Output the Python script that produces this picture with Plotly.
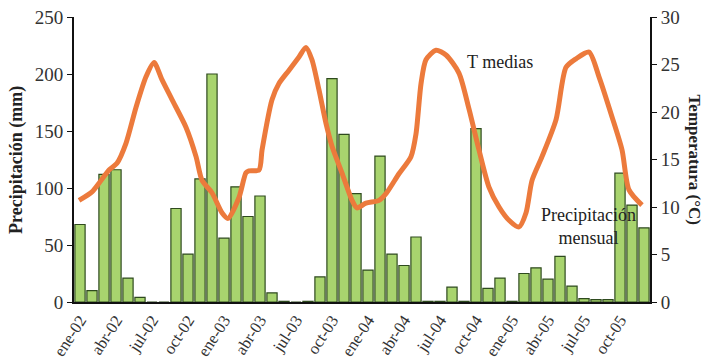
import plotly.graph_objects as go

# Monthly precipitation (mm), January 2002 - December 2005
months = [f"{m}-{y}" for y in ("02", "03", "04", "05")
          for m in ("ene", "feb", "mar", "abr", "may", "jun",
                    "jul", "ago", "sep", "oct", "nov", "dic")]
precip = [
    68, 10, 112, 116, 21, 4, 0, 0, 82, 42, 108, 200,
    56, 101, 75, 93, 8, 0.6, 0, 0.6, 22, 196, 147, 95,
    28, 128, 42, 32, 57, 0.6, 0.6, 13, 0.6, 152, 12, 21,
    0.6, 25, 30, 20, 40, 14, 3, 2, 2, 113, 85, 65,
]

# Mean temperature (°C) sampled along the record; position in months from ene-02
temp_pos = [
    -0.08, 1.0, 1.58, 2.42, 3.08, 3.83, 4.67, 5.5, 6.17, 6.83, 7.67, 8.83,
    9.67, 10.17, 11.0, 11.83, 12.33, 13.25, 13.83, 14.08, 14.92, 15.17,
    16.0, 16.58, 17.42, 18.25, 18.83, 19.33, 19.92, 20.5, 21.0, 21.83,
    22.67, 23.08, 23.83, 24.92, 25.5, 26.58, 27.58, 28.0, 28.42, 28.83,
    29.67, 30.5, 31.58, 32.42, 33.25, 34.08, 34.92, 35.75, 36.58, 37.17,
    37.67, 38.5, 39.67, 40.5, 41.33, 42.42, 43.25, 44.33, 45.17, 45.75,
    46.83,
]
temp = [
    10.7, 11.6, 12.5, 13.9, 14.6, 16.7, 20.5, 23.7, 25.2, 23.4, 21.3, 18.4,
    15.3, 12.8, 11.5, 9.4, 8.8, 11.0, 13.6, 13.8, 13.9, 16.0,
    21.3, 23.0, 24.4, 25.8, 26.8, 25.5, 22.3, 18.8, 16.4, 13.6,
    10.7, 9.9, 10.4, 10.7, 11.4, 13.5, 15.3, 17.7, 23.0, 25.5,
    26.5, 26.0, 24.1, 20.3, 16.0, 12.1, 10.0, 8.6, 7.9, 9.4,
    12.8, 15.3, 19.2, 24.7, 25.6, 26.3, 23.7, 19.5, 16.0, 11.8,
    10.2,
]

tick_idx = list(range(0, 48, 3))
tick_text = [months[i] for i in tick_idx]

serif = "Liberation Serif"
ink = "#333333"

fig = go.Figure()
fig.add_trace(go.Bar(
    x=list(range(48)), y=precip, width=0.85,
    marker=dict(color="#A8D46E", line=dict(color="#2E4A1E", width=1.2)),
    name="Precipitación mensual", yaxis="y",
))
fig.add_trace(go.Scatter(
    x=temp_pos, y=temp, mode="lines",
    line=dict(color="#EC7A3C", width=5, shape="spline", smoothing=0.7),
    name="T medias", yaxis="y2",
))

fig.update_layout(
    width=707, height=361,
    margin=dict(l=74, r=57, t=17, b=59, autoexpand=False),
    paper_bgcolor="white", plot_bgcolor="white",
    showlegend=False,
    font=dict(family=serif, color=ink, size=18),
    xaxis=dict(
        range=[-0.5, 47.5], tickmode="array", tickvals=tick_idx,
        ticktext=tick_text, tickangle=-57, showgrid=False, zeroline=False,
        showline=True, linecolor="#111", linewidth=2, ticks="",
        automargin=False,
        tickfont=dict(family=serif, size=16.5, color=ink),
    ),
    yaxis=dict(
        range=[0, 250], dtick=50, showgrid=False, zeroline=False,
        showline=True, linecolor="#111", linewidth=2, automargin=False,
        ticks="outside", ticklen=5, tickcolor="#111",
        tickfont=dict(family=serif, size=19, color=ink),
    ),
    yaxis2=dict(
        range=[0, 30], dtick=5, overlaying="y", side="right",
        showgrid=False, zeroline=False, automargin=False,
        showline=True, linecolor="#111", linewidth=2,
        ticks="outside", ticklen=5, tickcolor="#111",
        tickfont=dict(family=serif, size=19, color=ink),
    ),
    annotations=[
        dict(text="<b>Precipitación (mm)</b>", xref="paper", yref="paper",
             x=-0.1, y=0.5, textangle=-90, showarrow=False,
             xanchor="center", yanchor="middle",
             font=dict(family=serif, size=18, color="#222")),
        dict(text="<b>Temperatura (°C)</b>", xref="paper", yref="paper",
             x=1.078, y=0.5, textangle=90, showarrow=False,
             xanchor="center", yanchor="middle",
             font=dict(family=serif, size=17, color="#222")),
        dict(text="T medias", xref="x", yref="y2", x=35.0, y=25.3,
             showarrow=False, xanchor="center", yanchor="middle",
             font=dict(family=serif, size=18, color="#222")),
        dict(text="Precipitación<br>mensual", xref="x", yref="y", x=42.4, y=66,
             showarrow=False, xanchor="center", yanchor="middle",
             font=dict(family=serif, size=18, color="#222")),
    ],
)

fig.write_html("out.html")
